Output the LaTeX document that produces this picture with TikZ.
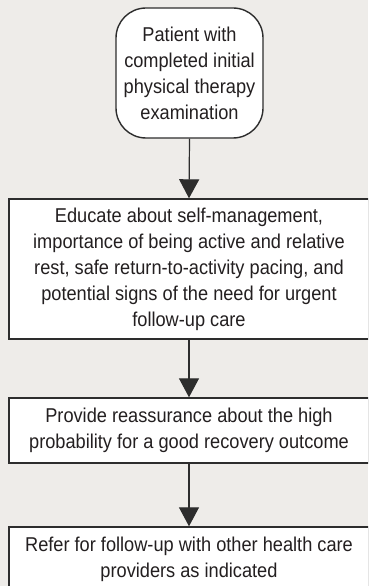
\documentclass[tikz,border=0pt]{standalone}
\usepackage{fontspec}
\setmainfont[FakeStretch=0.91]{Liberation Sans}
\usetikzlibrary{arrows.meta}
\definecolor{bg}{RGB}{238,236,233}
\definecolor{ln}{RGB}{45,45,45}
\definecolor{tx}{RGB}{35,31,32}
\begin{document}
\begin{tikzpicture}[x=1bp,y=-1bp,
  basebox/.style={draw=ln, line width=1.4bp, fill=white, inner sep=0pt, align=center, text=tx,
    font=\fontsize{20bp}{26bp}\selectfont},
  box/.style={basebox, minimum width=360bp},
  startbox/.style={basebox, rounded corners=30bp, minimum width=147bp, minimum height=130bp},
  arr/.style={draw=ln, line width=1.2bp, -{Triangle[width=20bp,length=19bp]}}
]
\fill[bg] (0,0) rectangle (368,586);
\useasboundingbox (0,0) rectangle (368,586);
\clip (0,0) rectangle (368,586);
\node[startbox] (start) at (189.5,73) {Patient with\\completed initial\\physical therapy\\examination};
\node[box, minimum height=140bp] (educ) at (189,269) {Educate about self-management,\\importance of being active and relative\\rest, safe return-to-activity pacing, and\\potential signs of the need for urgent\\follow-up care};
\node[box, minimum height=65bp] (reass) at (189,430.5) {Provide reassurance about the high\\probability for a good recovery outcome};
\node[box, minimum height=65bp] (refer) at (189,559.5) {Refer for follow-up with other health care\\providers as indicated};
\draw[arr] (start.south) -- (educ.north);
\draw[arr] (educ.south) -- (reass.north);
\draw[arr] (reass.south) -- (refer.north);
\end{tikzpicture}
\end{document}
